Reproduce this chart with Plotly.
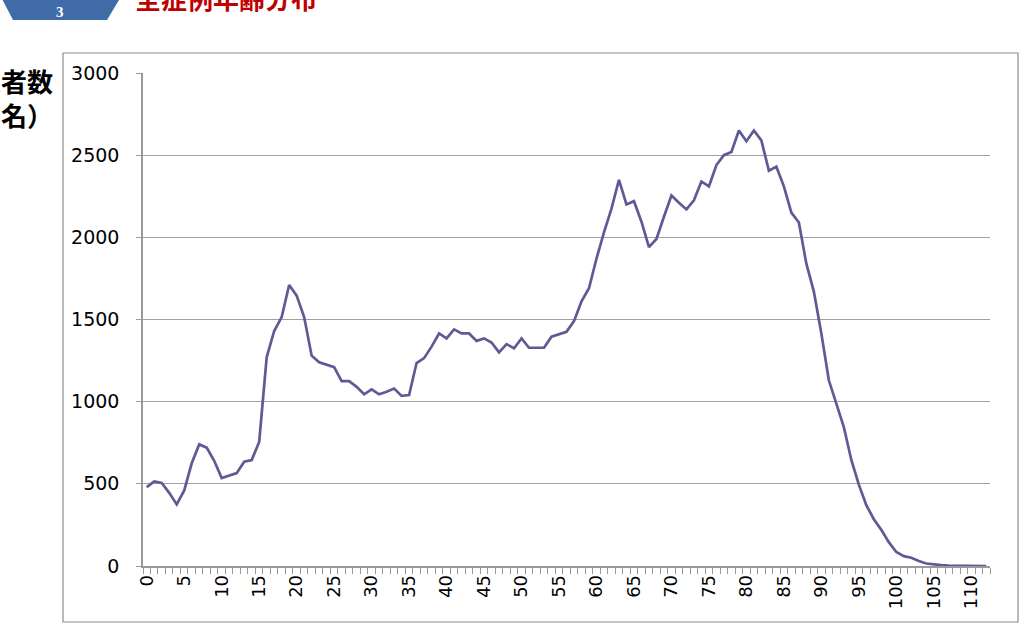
import plotly.graph_objects as go

ages = [str(a) for a in range(0, 113)]
patients = [
    480, 515, 505, 445, 375, 460, 625, 740, 720, 640,
    535, 550, 565, 635, 645, 755, 1270, 1430, 1515, 1710,
    1645, 1515, 1280, 1240, 1225, 1210, 1125, 1125, 1090, 1045,
    1075, 1045, 1060, 1080, 1035, 1040, 1235, 1265, 1335, 1415,
    1385, 1440, 1415, 1415, 1370, 1385, 1360, 1300, 1350, 1325,
    1385, 1328, 1328, 1328, 1395, 1410, 1425, 1490, 1610, 1690,
    1870, 2030, 2175, 2350, 2200, 2220, 2095, 1940, 1990, 2125,
    2255, 2210, 2170, 2225, 2340, 2310, 2440, 2500, 2520, 2650,
    2585, 2650, 2590, 2405, 2430, 2310, 2150, 2090, 1840, 1670,
    1415, 1130, 990, 845, 645, 495, 370, 285, 220, 145,
    85, 60, 50, 30, 15, 8, 5, 3, 2, 1,
    1, 0, 0,
]
tick_text = [a if int(a) % 5 == 0 else "" for a in ages]
y_ticks = [0, 500, 1000, 1500, 2000, 2500, 3000]

W, H = 1034, 627
L, R, T, B = 143, 44, 73, 61
PW, PH = W - L - R, H - T - B


def px(x):
    return (x - L) / PW


def py(y):
    return (H - B - y) / PH


fig = go.Figure()
fig.add_trace(go.Scatter(
    x=ages, y=patients, mode="lines",
    line=dict(color="#5e5b94", width=2.7),
    showlegend=False, hoverinfo="x+y",
))

fig.update_layout(
    width=W, height=H,
    margin=dict(l=L, r=R, t=T, b=B, autoexpand=False),
    paper_bgcolor="white", plot_bgcolor="white",
    font=dict(family="DejaVu Sans", color="black"),
    xaxis=dict(
        type="category", tickmode="array", tickvals=ages, ticktext=tick_text,
        tickangle=-90, tickfont=dict(size=18, family="DejaVu Sans"),
        ticks="outside", ticklen=6, tickcolor="#999999", tickson="boundaries",
        showline=True, linecolor="#999999", linewidth=1.5,
        showgrid=False, range=[-0.5, 112.5], zeroline=False,
    ),
    yaxis=dict(
        range=[0, 3000], tickvals=y_ticks, ticktext=[str(v) for v in y_ticks],
        tickfont=dict(size=19, family="DejaVu Sans"),
        ticks="outside", ticklen=5, tickcolor="#999999", ticklabelstandoff=13,
        showline=True, linecolor="#999999", linewidth=1.5,
        showgrid=True, gridcolor="#a0a0a0", gridwidth=1.4, zeroline=False,
    ),
    shapes=[
        dict(type="rect", xref="paper", yref="paper",
             x0=px(63), x1=px(1018), y0=py(622), y1=py(53),
             line=dict(color="#8c8c8c", width=1.2), fillcolor="rgba(0,0,0,0)", layer="below"),
        dict(type="path", xref="paper", yref="paper",
             path=f"M {px(0)},{py(-5)} L {px(122)},{py(-5)} L {px(107)},{py(20)} L {px(13)},{py(20)} Z",
             fillcolor="#3f6ca6", line=dict(width=0)),
    ],
    annotations=[
        dict(text="<b>3</b>", xref="paper", yref="paper", x=px(60), y=py(12),
             xanchor="center", yanchor="middle", showarrow=False,
             font=dict(family="Liberation Serif", size=15, color="white")),
        dict(text="<b>全症例年齢分布</b>", xref="paper", yref="paper", x=px(133), y=py(-2),
             xanchor="left", yanchor="middle", showarrow=False,
             font=dict(family="Noto Sans CJK JP", size=26, color="#c00000")),
        dict(text="<b>患者数<br>（名）</b>", xref="paper", yref="paper", x=px(55), y=py(97),
             xanchor="right", yanchor="middle", align="center", showarrow=False,
             font=dict(family="Noto Sans CJK JP", size=26, color="black")),
    ],
)

fig.write_html("out.html")
